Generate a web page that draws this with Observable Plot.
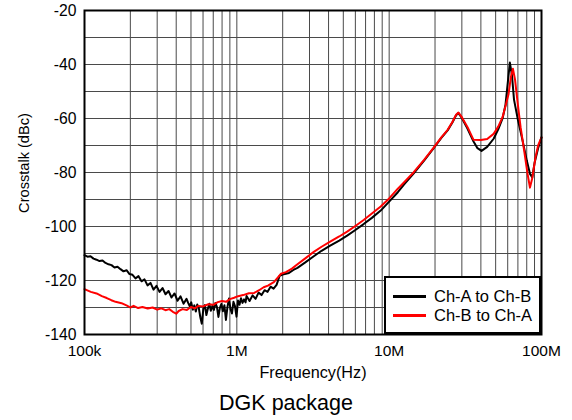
<!DOCTYPE html>
<html>
<head>
<meta charset="utf-8">
<script src="https://cdn.jsdelivr.net/npm/d3@7"></script>
<script src="https://cdn.jsdelivr.net/npm/@observablehq/plot@0.6"></script>
<style>
  html, body { margin: 0; padding: 0; background: #fff; }
  body { width: 572px; height: 420px; position: relative; overflow: hidden; font-family: "Liberation Sans", Arial, sans-serif; }
  #chart { position: absolute; left: 0; top: 0; }
  #caption { position: absolute; left: 0; width: 572px; top: 391px; text-align: center; font-size: 21.5px; line-height: 24px; color: #000; }
  #ytitle { position: absolute; left: -76px; top: 154px; width: 200px; text-align: center; font-size: 14.6px; line-height: 18px; color: #000; transform: rotate(-90deg); transform-origin: 100px 9px; white-space: nowrap; }
  #legend { position: absolute; left: 384px; top: 276px; width: 157px; height: 58px; box-sizing: border-box; border: 2px solid #000; background: #fff; }
  .lg-row { position: absolute; left: 0; height: 18px; }
  .lg-line { position: absolute; left: 7px; width: 33px; height: 2.5px; }
  .lg-text { position: absolute; left: 48px; font-size: 16.5px; line-height: 18px; white-space: nowrap; color: #000; }
</style>
</head>
<body>
<div id="chart"></div>
<div id="ytitle"></div>
<div id="legend"></div>
<div id="caption"></div>
<script>
// ---- Data (frequency in kHz, crosstalk in dBc) ----
const seriesNames = ["Ch-A to Ch-B", "Ch-B to Ch-A"];
const seriesColors = ["#000000", "#ff0000"];

const freqA = [100, 104.6, 109.5, 114.6, 119.9, 125.5, 131.3, 137.4, 143.8, 150.4, 157.4, 164.7, 172.3, 180.3, 188.7, 197.5,
  206.6, 216.2, 226.2, 236.7, 247.7, 259.2, 271.2, 283.8, 297.0, 310.8, 325.2, 340.3, 356.1, 372.6, 389.9, 408.0, 426.9,
  446.7, 467.5, 480, 491, 502, 514, 526, 538, 550, 563, 576, 589, 603, 617, 631, 645, 660, 675, 691, 707, 723, 740, 757,
  774, 792, 810, 829, 848, 868, 888, 908, 929, 950, 972, 995, 1018, 1041, 1065, 1090, 1115, 1141,
  1158.3, 1212.1, 1268.4, 1327.3, 1388.9, 1453.4, 1520.9, 1591.5, 1665.4, 1742.7, 1823.6,
  1908.3, 1996.9, 2200, 2350, 2500, 2800, 3200, 3600, 4100, 4700, 5300, 6000, 6800, 7700, 8800, 10000, 11400, 12500,
  14500, 17000, 19600, 22000, 24200, 26000, 27500, 28500, 30000, 32700, 35800, 38000, 40400, 44000, 48500, 52000, 55500,
  58000, 60000, 62000, 64000, 66000, 70000, 75000, 80000, 84000, 87000, 90000, 95000, 100000];
const dbA = [-110.6, -111.2, -111.0, -111.9, -112.3, -112.8, -112.6, -113.5, -114.0, -114.3, -115.2, -114.9, -115.8, -116.6, -116.2, -117.6,
  -117.9, -119.2, -118.4, -120.3, -119.6, -121.8, -120.9, -123.4, -122.0, -124.2, -122.8, -125.1, -123.9, -126.3, -124.8, -127.5, -125.9,
  -128.6, -126.8, -128.4, -129.6, -128.1, -130.8, -129.2, -131.5, -128.9, -130.2, -133.6, -136.0, -130.4, -129.1, -132.8, -130.5, -128.6, -131.2, -129.4, -130.9, -128.3, -129.8, -133.5,
  -130.1, -128.7, -131.4, -129.2, -134.6, -129.8, -126.7, -130.5, -132.2, -127.9, -129.5, -133.4, -127.4, -129.0, -126.6, -128.3, -127.0, -128.1,
  -125.7, -127.6, -125.5, -126.8, -124.5, -125.4, -123.6, -124.2, -122.3, -123.0, -121.6,
  -118.3, -117.8, -117.2, -116.1, -115.3, -113.4, -111.0, -109.0, -107.1, -105.2, -103.4, -101.3, -99.1, -96.8, -94.1, -90.8, -87.3, -84.5,
  -80.3, -75.5, -71.0, -67.2, -64.4, -61.5, -58.8, -58.0, -59.8, -63.8, -68.5, -71.0, -72.0, -70.5, -67.5, -64.0, -60.0,
  -55.0, -47.0, -39.3, -44.0, -53.0, -60.5, -68.0, -75.5, -80.5, -81.8, -76.5, -71.0, -67.0];

const freqB = [100, 110, 120, 130, 140, 150, 160, 175, 190, 200, 210, 225, 240, 260, 280, 300, 320, 340, 360, 380, 400, 415,
  440, 470, 500, 530, 560, 600, 650, 700, 750, 800, 850, 900, 960, 1020, 1100, 1200, 1300, 1400, 1500, 1600, 1750, 1850,
  1950, 2100, 2300, 2500, 2800, 3200, 3600, 4100, 4700, 5300, 6000, 6800, 7700, 8800, 10000, 11400, 12500, 14500, 17000,
  19600, 22000, 24200, 26000, 27500, 28500, 30000, 32700, 35800, 40000, 44000, 48500, 52000, 55500, 58000, 60800, 63000,
  64900, 67000, 70000, 72900, 77000, 81000, 84000, 87000, 91400, 95000, 100000];
const dbB = [-123.2, -124.2, -124.8, -125.8, -126.5, -127.3, -127.9, -128.4, -129.3, -130.0, -129.4, -130.2, -129.8, -130.4, -130.0, -130.8,
  -130.3, -131.0, -130.6, -131.6, -132.3, -131.3, -130.6, -130.9, -129.8, -130.3, -129.4, -129.6, -128.8, -129.0, -128.0, -127.6,
  -127.9, -126.9, -126.4, -125.8, -125.4, -124.7, -124.6, -123.6, -122.5, -121.9, -120.6, -119.0, -117.5, -116.9, -115.6, -114.0,
  -111.9, -109.4, -107.5, -105.6, -103.7, -101.9, -99.8, -97.6, -95.2, -92.6, -89.6, -86.0, -83.7, -79.9, -75.2, -70.8, -67.0,
  -64.2, -61.3, -58.6, -57.8, -59.5, -63.2, -67.9, -68.0, -67.6, -65.7, -63.0, -59.5, -55.5, -50.9, -44.5, -41.6, -45.5, -55.0,
  -63.2, -72.0, -80.5, -85.6, -82.0, -74.3, -70.0, -67.0];

const xTickValues = [1e5, 1e6, 1e7, 1e8];
const xTickLabels = ["100k", "1M", "10M", "100M"];
const yTickValues = [-140, -120, -100, -80, -60, -40, -20];
const yTickLabels = ["-140", "-120", "-100", "-80", "-60", "-40", "-20"];
const xTitle = "Frequency(Hz)";
const yTitle = "Crosstalk (dBc)";
const captionText = "DGK package";

// ---- Build tables ----
const rows = [];
freqA.forEach((f, i) => rows.push({series: seriesNames[0], freq: f * 1000, db: dbA[i]}));
freqB.forEach((f, i) => rows.push({series: seriesNames[1], freq: f * 1000, db: dbB[i]}));

const xGrid = [];
for (let d = 1e5; d < 1e8; d *= 10) for (let k = 1; k <= 9; k++) xGrid.push(d * k);
xGrid.push(1e8);
const yGrid = d3.range(-140, -19, 10);

const W = 572, H = 388;
const chart = Plot.plot({
  width: W,
  height: H,
  marginLeft: 84,
  marginRight: 31,
  marginTop: 10,
  marginBottom: H - 334,
  style: {fontFamily: "'Liberation Sans', Arial, sans-serif", fontSize: "16px", color: "#000", background: "#fff"},
  x: {type: "log", domain: [1e5, 1e8], label: null},
  y: {domain: [-140, -20], label: null},
  color: {domain: seriesNames, range: seriesColors},
  marks: [
    Plot.ruleX(xGrid, {stroke: "#4a4a4a", strokeWidth: 1}),
    Plot.ruleY(yGrid, {stroke: "#4a4a4a", strokeWidth: 1}),
    Plot.axisX(xTickValues, {tickSize: 0, tickPadding: 10, tickFormat: d => xTickLabels[xTickValues.indexOf(d)], fontSize: 15.5, label: null}),
    Plot.axisY(yTickValues, {tickSize: 0, tickPadding: 8, tickFormat: d => yTickLabels[yTickValues.indexOf(d)], fontSize: 15.7, label: null}),
    Plot.line(rows, {x: "freq", y: "db", z: "series", stroke: "series", strokeWidth: 2, curve: "linear"}),
    Plot.frame({stroke: "#000", strokeWidth: 2}),
    Plot.text([xTitle], {frameAnchor: "bottom", dy: 32, text: d => d, fontSize: 16.2, lineAnchor: "top"})
  ]
});
document.getElementById("chart").appendChild(chart);

document.getElementById("ytitle").textContent = yTitle;

// ---- Legend ----
const legend = document.getElementById("legend");
seriesNames.forEach((name, i) => {
  const row = document.createElement("div");
  row.className = "lg-row";
  row.style.top = (9 + i * 19) + "px";
  row.style.width = "100%";
  const line = document.createElement("div");
  line.className = "lg-line";
  line.style.top = "8px";
  line.style.background = seriesColors[i];
  const txt = document.createElement("div");
  txt.className = "lg-text";
  txt.style.top = "0px";
  txt.textContent = name;
  row.appendChild(line);
  row.appendChild(txt);
  legend.appendChild(row);
});
document.getElementById("caption").textContent = captionText;
</script>
</body>
</html>
